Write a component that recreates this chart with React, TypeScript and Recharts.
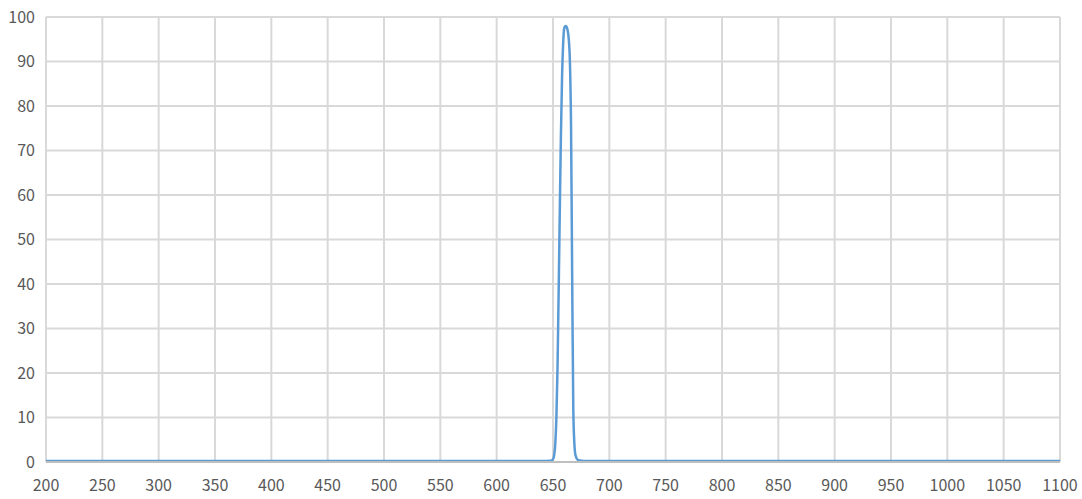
import { LineChart, Line, XAxis, YAxis, CartesianGrid } from "recharts";

// wavelength (nm) and transmission (%)
const wavelengths = [200, 300, 400, 500, 600, 640, 648, 650, 651, 652, 653, 654, 655, 656, 657, 658, 659, 660, 661, 662, 663, 664, 665, 666, 667, 668, 669, 670, 672, 675, 680, 700, 800, 900, 1000, 1100];
const transmission = [0.2, 0.2, 0.2, 0.2, 0.2, 0.2, 0.3, 0.6, 1.5, 4, 10, 21, 38, 56, 73, 86, 94, 97.5, 98, 97.8, 97, 95, 90, 76, 42, 12, 4, 1.5, 0.5, 0.3, 0.2, 0.2, 0.2, 0.2, 0.2, 0.2];

const xTicks = [200, 250, 300, 350, 400, 450, 500, 550, 600, 650, 700, 750, 800, 850, 900, 950, 1000, 1050, 1100];
const yTicks = [0, 10, 20, 30, 40, 50, 60, 70, 80, 90, 100];

const data = wavelengths.map((w, i) => ({ nm: w, t: transmission[i] }));

const tickStyle = { fill: "#595959", fontSize: 16, fontFamily: "'Noto Sans CJK SC', 'Noto Sans', sans-serif" };

export default function App() {
  return (
    <div style={{ position: "absolute", left: 0, top: 0, background: "#fff" }}>
      <LineChart width={1082} height={499} data={data} margin={{ top: 17, right: 22, bottom: 0, left: 0 }}>
        <CartesianGrid stroke="#d9d9d9" strokeWidth={2} />
        <XAxis
          dataKey="nm"
          type="number"
          domain={[200, 1100]}
          ticks={xTicks}
          interval={0}
          height={37}
          tickLine={false}
          axisLine={{ stroke: "#bfbfbf", strokeWidth: 2 }}
          tickMargin={12}
          tick={tickStyle}
        />
        <YAxis
          type="number"
          domain={[0, 100]}
          ticks={yTicks}
          interval={0}
          width={46}
          tickLine={false}
          axisLine={false}
          tickMargin={5}
          tick={tickStyle}
        />
        <Line type="monotone" dataKey="t" stroke="#5b9bd5" strokeWidth={2.5} dot={false} isAnimationActive={false} />
      </LineChart>
    </div>
  );
}
